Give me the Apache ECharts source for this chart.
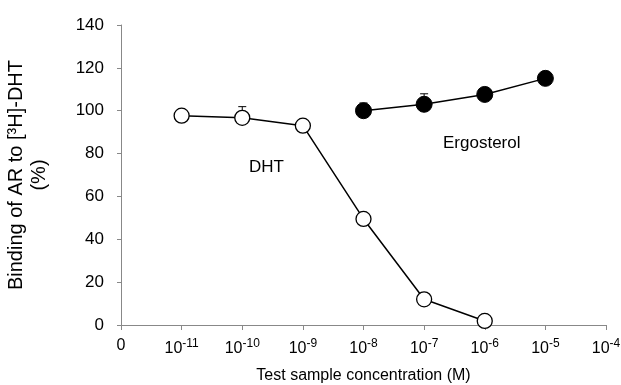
<!DOCTYPE html>
<html><head><meta charset="utf-8">
<script src="https://cdn.jsdelivr.net/npm/echarts@6/dist/echarts.min.js"></script>
<style>html,body{margin:0;padding:0;background:#fff}#c{width:621px;height:385px}</style>
</head><body><div id="c"></div>
<script>
var xTickLabels = ['0', '-11', '-10', '-9', '-8', '-7', '-6', '-5', '-4'];
var dhtX = [1, 2, 3, 4, 5, 6];
var dhtY = [97.7, 96.7, 93.0, 49.5, 12.0, 1.9];
var dhtErr = [0, 5.2, 0, 0, 0, 0];
var ergX = [4, 5, 6, 7];
var ergY = [100.0, 103.0, 107.6, 115.1];
var ergErr = [3.6, 4.9, 0, 0];

var chart = echarts.init(document.getElementById('c'));
var font = 'Liberation Sans, Arial, sans-serif';
function pairs(xs, ys){ return xs.map(function(x,i){return [x, ys[i]];}); }
function errData(xs, ys, es){ var r=[]; xs.forEach(function(x,i){ if(es[i]>0) r.push([x, ys[i], ys[i]+es[i]]); }); return r; }
function errSeries(data){
  return {
    type: 'custom', data: data, z: 1, silent: true,
    renderItem: function(params, api){
      var b = api.coord([api.value(0), api.value(1)]);
      var t = api.coord([api.value(0), api.value(2)]);
      return {type:'group', children:[
        {type:'line', shape:{x1:b[0], y1:b[1], x2:t[0], y2:t[1]}, style:{stroke:'#000', lineWidth:1}},
        {type:'line', shape:{x1:t[0]-4, y1:t[1], x2:t[0]+4, y2:t[1]}, style:{stroke:'#000', lineWidth:1}}
      ]};
    }
  };
}
chart.setOption({
  animation: false,
  backgroundColor: '#fff',
  grid: {left: 121, right: 15, top: 25, bottom: 60, containLabel: false, outerBoundsMode: 'none'},
  xAxis: {
    type: 'value', min: 0, max: 8, interval: 1,
    name: 'Test sample concentration (M)', nameLocation: 'middle', nameGap: 43,
    nameTextStyle: {fontFamily: font, fontSize: 16, color: '#000'},
    axisLine: {lineStyle: {color: '#888', width: 1}},
    axisTick: {show: true, length: 5, lineStyle: {color: '#888'}},
    splitLine: {show: false},
    axisLabel: {
      margin: 13, color: '#000', fontFamily: font, fontSize: 16,
      formatter: function(v){
        var s = xTickLabels[Math.round(v)];
        if (v === 0) return '{b|0}';
        return '{b|10}{sup|' + s + '}';
      },
      rich: {
        b: {fontFamily: font, fontSize: 16, color: '#000'},
        sup: {fontFamily: font, fontSize: 12, color: '#000', padding: [0, 0, 9, 0]}
      }
    }
  },
  yAxis: {
    type: 'value', min: 0, max: 140, interval: 20,
    name: 'Binding of AR to [\u00B3H]-DHT\n(%)', nameLocation: 'middle', nameGap: 70, nameRotate: 90,
    nameTextStyle: {fontFamily: font, fontSize: 20, color: '#000', lineHeight: 23},
    axisLine: {show: true, lineStyle: {color: '#888', width: 1}},
    axisTick: {show: true, length: 4, lineStyle: {color: '#888'}},
    splitLine: {show: false},
    axisLabel: {margin: 17, color: '#000', fontFamily: font, fontSize: 17}
  },
  series: [
    errSeries(errData(dhtX, dhtY, dhtErr)),
    errSeries(errData(ergX, ergY, ergErr)),
    {
      type: 'line', data: pairs(dhtX, dhtY), z: 3,
      symbol: 'circle', symbolSize: 15,
      lineStyle: {color: '#000', width: 1.5},
      itemStyle: {color: '#fff', borderColor: '#000', borderWidth: 1.3}
    },
    {
      type: 'line', data: pairs(ergX, ergY), z: 3,
      symbol: 'circle', symbolSize: 16,
      lineStyle: {color: '#000', width: 1.5},
      itemStyle: {color: '#000', borderColor: '#000', borderWidth: 1}
    }
  ],
  graphic: [
    {type: 'text', left: 249, top: 159, style: {text: 'DHT', font: '17px ' + font, fill: '#000'}},
    {type: 'text', left: 443, top: 135, style: {text: 'Ergosterol', font: '17px ' + font, fill: '#000'}}
  ]
});
</script></body></html>
